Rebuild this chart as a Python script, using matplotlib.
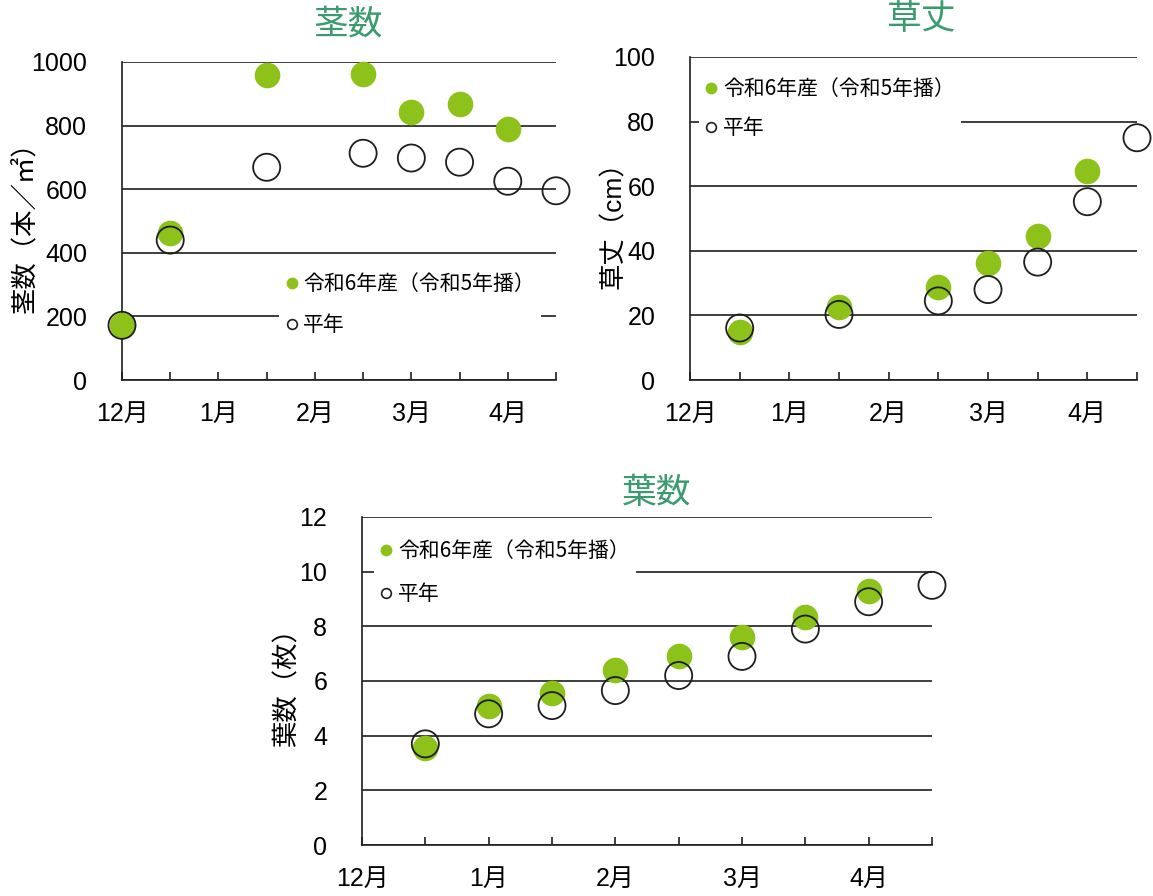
""" wheat growth survey: stems, plant height and leaf count """
import matplotlib.pyplot as plt
from matplotlib.lines import Line2D
import numpy as np

plt.rcParams['font.family'] = ['Liberation Sans', 'Noto Sans CJK JP', 'DejaVu Sans']

GREEN = '#8cc21a'
TITLE_GREEN = '#3a9c6c'
INK = '#1e1e1e'

# x axis runs in half-month steps from 12月
month_pos = [0, 2, 4, 6, 8]
month_labels = ['12月', '1月', '2月', '3月', '4月']
legend_labels = ['令和6年産（令和5年播）', '平年']

# 茎数 (本/㎡)
stem_x_new = [0, 1, 3, 5, 6, 7, 8]
stem_new = [172, 462, 960, 962, 843, 869, 790]
stem_x_avg = [0, 1, 3, 5, 6, 7, 8, 9]
stem_avg = [172, 440, 669, 713, 698, 685, 625, 595]

# 草丈 (cm)
height_x_new = [1, 3, 5, 6, 7, 8]
height_new = [14.8, 22.5, 28.7, 36.3, 44.5, 64.8]
height_x_avg = [1, 3, 5, 6, 7, 8, 9]
height_avg = [16.1, 20.3, 24.5, 28.0, 36.5, 55.2, 75.0]

# 葉数 (枚)
leaf_x_new = [1, 2, 3, 4, 5, 6, 7, 8]
leaf_new = [3.55, 5.1, 5.55, 6.4, 6.9, 7.6, 8.35, 9.3]
leaf_x_avg = [1, 2, 3, 4, 5, 6, 7, 8, 9]
leaf_avg = [3.7, 4.8, 5.1, 5.65, 6.2, 6.9, 7.9, 8.9, 9.5]


def panel(fig, rect, title, title_xy, ylabel, ylabel_x, ymax, ystep,
          x_new, y_new, x_avg, y_avg, legend_xy, spacing):
    """ one scatter panel with horizontal rules """
    ax = fig.add_axes(rect)
    ax.set_xlim(0, 9)
    ax.set_ylim(0, ymax)

    ax.scatter(x_new, y_new, s=340, color=GREEN, linewidths=0,
               zorder=3, clip_on=False)
    ax.scatter(x_avg, y_avg, s=380, facecolors='none', edgecolors=INK,
               linewidths=1.3, zorder=4, clip_on=False)

    ax.set_yticks(np.arange(0, ymax + ystep / 2, ystep))
    ax.yaxis.grid(True, color=INK, lw=1.2)
    ax.set_axisbelow(True)
    ax.set_xticks(range(10))
    ax.set_xticklabels([month_labels[month_pos.index(i)] if i in month_pos else ''
                        for i in range(10)])

    for side in ['top', 'right']:
        ax.spines[side].set_visible(False)
    for side in ['left', 'bottom']:
        ax.spines[side].set_color(INK)
        ax.spines[side].set_linewidth(1.2)

    ax.tick_params(axis='y', length=0, pad=25, labelsize=18)
    ax.tick_params(axis='x', direction='in', length=6, width=1.2,
                   color=INK, pad=16, labelsize=18)

    ax.set_ylabel(ylabel, fontsize=19)
    ax.yaxis.set_label_coords(ylabel_x, 0.5)

    fig.text(title_xy[0], title_xy[1], title, fontsize=25, color=TITLE_GREEN,
             ha='center', va='center')

    handles = [
        Line2D([], [], ls='', marker='o', ms=8.5, color=GREEN, mec='none'),
        Line2D([], [], ls='', marker='o', ms=7, mfc='none', mec=INK, mew=1.2),
    ]
    leg = ax.legend(handles, legend_labels, loc='upper left',
                    bbox_to_anchor=legend_xy, frameon=True,
                    fancybox=False, borderpad=0.3, borderaxespad=0,
                    handlelength=0.6, handletextpad=0.25, labelspacing=spacing,
                    prop={'family': ['Noto Sans CJK JP'], 'size': 15})
    leg.get_frame().set_facecolor('white')
    leg.get_frame().set_edgecolor('none')
    leg.get_frame().set_alpha(1)
    return ax


def main():
    fig = plt.figure(figsize=(11.53, 8.96), dpi=100)
    W, H = 1153, 896

    def box(x0, x1, y_top, y_bottom):
        return [x0 / W, 1 - y_bottom / H, (x1 - x0) / W, (y_bottom - y_top) / H]

    panel(fig, box(122, 556, 62, 380), '茎数', (348 / W, 1 - 25 / H),
          '茎数（本／㎡）', -0.196, 1000, 200,
          stem_x_new, stem_new, stem_x_avg, stem_avg, (0.362, 0.356), 0.9)
    panel(fig, box(690, 1137, 57, 380), '草丈', (921 / W, 1 - 19 / H),
          '草丈（cm）', -0.143, 100, 20,
          height_x_new, height_new, height_x_avg, height_avg, (0.02, 0.953), 0.8)
    panel(fig, box(362, 932, 517, 845), '葉数', (657 / W, 1 - 493 / H),
          '葉数（枚）', -0.109, 12, 2,
          leaf_x_new, leaf_new, leaf_x_avg, leaf_avg, (0.021, 0.948), 1.0)

    fig.savefig('out.png', dpi=100)


if __name__ == '__main__':
    main()
